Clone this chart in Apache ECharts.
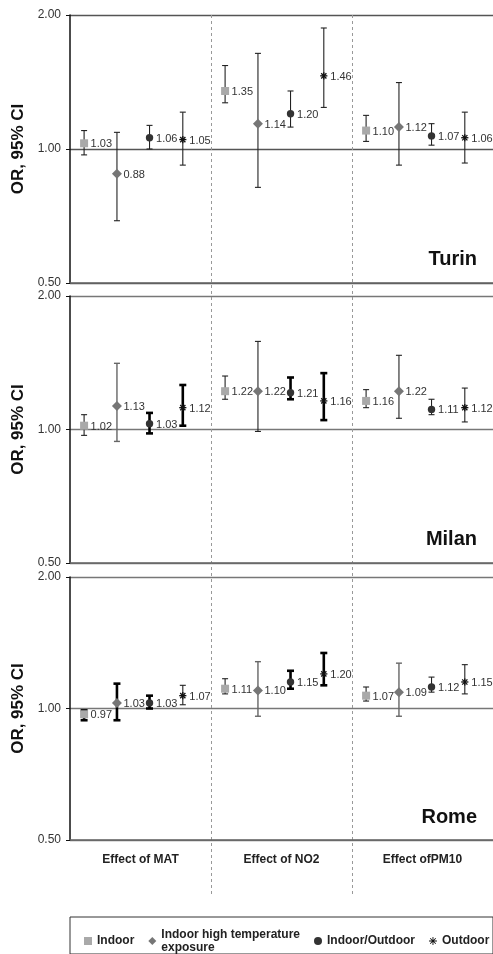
<!DOCTYPE html>
<html>
<head>
<meta charset="utf-8">
<title>OR, 95% CI</title>
<script src="https://cdn.jsdelivr.net/npm/echarts@6/dist/echarts.min.js"></script>
<style>html,body{margin:0;padding:0;background:#fff;}</style>
</head>
<body>
<div id="main" style="width:493px;height:954px"></div>
<script>
// categories
var effects = ['Effect of MAT', 'Effect of NO2', 'Effect ofPM10'];
var exposures = ['Indoor', 'Indoor high temperature exposure', 'Indoor/Outdoor', 'Outdoor'];
var cities = ['Turin', 'Milan', 'Rome'];

// odds ratios, rows = exposure, columns = effect
var turinOR   = [[1.03, 1.35, 1.10], [0.88, 1.14, 1.12], [1.06, 1.20, 1.07], [1.05, 1.46, 1.06]];
var turinLow  = [[0.97, 1.27, 1.04], [0.69, 0.82, 0.92], [1.00, 1.12, 1.02], [0.92, 1.24, 0.93]];
var turinHigh = [[1.10, 1.54, 1.19], [1.09, 1.64, 1.41], [1.13, 1.35, 1.14], [1.21, 1.87, 1.21]];

var milanOR   = [[1.02, 1.22, 1.16], [1.13, 1.22, 1.22], [1.03, 1.21, 1.11], [1.12, 1.16, 1.12]];
var milanLow  = [[0.97, 1.17, 1.12], [0.94, 0.99, 1.06], [0.98, 1.17, 1.08], [1.02, 1.05, 1.04]];
var milanHigh = [[1.08, 1.32, 1.23], [1.41, 1.58, 1.47], [1.09, 1.31, 1.17], [1.26, 1.34, 1.24]];

var romeOR    = [[0.97, 1.11, 1.07], [1.03, 1.10, 1.09], [1.03, 1.15, 1.12], [1.07, 1.20, 1.15]];
var romeLow   = [[0.94, 1.08, 1.04], [0.94, 0.96, 0.96], [1.00, 1.11, 1.09], [1.02, 1.13, 1.08]];
var romeHigh  = [[0.99, 1.17, 1.12], [1.14, 1.28, 1.27], [1.07, 1.22, 1.18], [1.13, 1.34, 1.26]];

var cityData = [
    [turinOR, turinLow, turinHigh],
    [milanOR, milanLow, milanHigh],
    [romeOR, romeLow, romeHigh]
];

// --- styling ---
var FONT = 'Liberation Sans';
var markerColors = ['#a9a9a9', '#767676', '#333333', '#111111'];
var offsets = [-0.40, -0.167, 0.064, 0.30];   // position inside the category band
// error bars drawn bold / grey (city -> "effect-exposure")
var boldBars = {
    Milan: ['0-2', '0-3', '1-2', '1-3'],
    Rome: ['0-0', '0-1', '0-2', '1-2', '1-3']
};
var greyBars = {
    Milan: ['0-1'],
    Rome: ['1-1', '2-1']
};
var panelTops = [15, 296, 577];
var panelHeights = [268, 267, 263];
var titleTops = [249, 529, 807];

var asteriskIcon = 'path://M4,0h1v9h-1z M0,4h9v1h-9z M1,1.7L1.7,1L8,7.3L7.3,8Z M7.3,1L8,1.7L1.7,8L1,7.3Z';

function barStyle(city, k, e) {
    var key = k + '-' + e;
    if ((boldBars[city] || []).indexOf(key) >= 0) return { width: 2.6, color: '#000', cap: 3.5 };
    if ((greyBars[city] || []).indexOf(key) >= 0) return { width: 1.4, color: '#666', cap: 3 };
    return { width: 1.1, color: '#222', cap: 3 };
}

function makeRender(city, e) {
    return function (params, api) {
        var k = api.value(0), v = api.value(1), lo = api.value(2), hi = api.value(3);
        var p = api.coord([k, v]);
        var band = api.coord([1, 1])[0] - api.coord([0, 1])[0];
        var x = p[0] + offsets[e] * band;
        var y = p[1];
        var yLo = api.coord([k, lo])[1];
        var yHi = api.coord([k, hi])[1];
        var bs = barStyle(city, k, e);
        var lineSt = { stroke: bs.color, lineWidth: bs.width };
        var children = [
            { type: 'line', shape: { x1: x, y1: yLo, x2: x, y2: yHi }, style: lineSt },
            { type: 'line', shape: { x1: x - bs.cap, y1: yLo, x2: x + bs.cap, y2: yLo }, style: lineSt },
            { type: 'line', shape: { x1: x - bs.cap, y1: yHi, x2: x + bs.cap, y2: yHi }, style: lineSt }
        ];
        var col = markerColors[e];
        if (e === 0) {
            children.push({ type: 'rect', shape: { x: x - 4, y: y - 4, width: 8, height: 8 }, style: { fill: col } });
        } else if (e === 1) {
            children.push({ type: 'polygon', shape: { points: [[x, y - 5], [x + 5, y], [x, y + 5], [x - 5, y]] }, style: { fill: col } });
        } else if (e === 2) {
            children.push({ type: 'circle', shape: { cx: x, cy: y, r: 3.7 }, style: { fill: col } });
        } else {
            var r = 3.6, d = 2.6;
            var st = { stroke: col, lineWidth: 1.3 };
            children.push({ type: 'line', shape: { x1: x - r, y1: y, x2: x + r, y2: y }, style: st });
            children.push({ type: 'line', shape: { x1: x, y1: y - r, x2: x, y2: y + r }, style: st });
            children.push({ type: 'line', shape: { x1: x - d, y1: y - d, x2: x + d, y2: y + d }, style: st });
            children.push({ type: 'line', shape: { x1: x - d, y1: y + d, x2: x + d, y2: y - d }, style: st });
        }
        children.push({
            type: 'text',
            style: {
                text: v.toFixed(2), x: x + 6.5, y: y + 1,
                fill: '#333', font: '11px ' + FONT, verticalAlign: 'middle', align: 'left'
            }
        });
        return { type: 'group', children: children };
    };
}

var grids = [], xAxes = [], yAxes = [], series = [], titles = [];

cities.forEach(function (city, c) {
    grids.push({ left: 70, right: 0, top: panelTops[c], height: panelHeights[c] });
    xAxes.push({
        type: 'category', gridIndex: c, data: effects, boundaryGap: true,
        axisLine: { lineStyle: { color: '#666', width: 1.5 } },
        axisTick: { show: false },
        axisLabel: {
            show: c === 2, margin: 14, interval: 0,
            color: '#222', fontSize: 12, fontWeight: 'bold', fontFamily: FONT
        },
        splitLine: { show: false }
    });
    yAxes.push({
        type: 'log', logBase: 2, min: 0.5, max: 2, gridIndex: c,
        name: 'OR, 95% CI', nameLocation: 'middle', nameGap: 43,
        nameTextStyle: { fontSize: 17, fontWeight: 'bold', color: '#111', fontFamily: FONT },
        axisLine: { show: true, lineStyle: { color: '#111', width: 1.5 } },
        axisTick: { show: true, length: 4, lineStyle: { color: '#111' } },
        axisLabel: {
            margin: 9, color: '#333', fontSize: 12, fontFamily: FONT,
            formatter: function (val) { return val.toFixed(2); }
        },
        splitLine: { show: true, lineStyle: { color: c === 0 ? '#555' : '#777', width: 1.3 } }
    });
    titles.push({
        text: city, right: 16, top: titleTops[c], padding: 0,
        textStyle: { fontSize: 20, fontWeight: 'bold', color: '#111', fontFamily: FONT }
    });
    var d = cityData[c];
    exposures.forEach(function (name, e) {
        series.push({
            type: 'custom', name: name,
            xAxisIndex: c, yAxisIndex: c,
            itemStyle: { color: markerColors[e] },
            encode: { x: 0, y: [1, 2, 3] },
            data: effects.map(function (_, k) { return [k, d[0][e][k], d[1][e][k], d[2][e][k]]; }),
            renderItem: makeRender(city, e)
        });
    });
});

// grid holding the dashed separators between effects
grids.push({ left: 70, right: 0, top: 15, height: 880 });
xAxes.push({
    type: 'value', gridIndex: 3, min: 0, max: effects.length, interval: 1,
    axisLine: { show: false }, axisTick: { show: false }, axisLabel: { show: false },
    splitLine: { show: true, showMinLine: false, showMaxLine: false, lineStyle: { color: '#999', type: [3, 3], width: 1 } }
});
yAxes.push({ type: 'value', gridIndex: 3, show: false });

// legend frame
grids.push({ left: 70, right: -20, top: 917, bottom: -20, show: true, borderColor: '#333', borderWidth: 1, backgroundColor: 'transparent' });
xAxes.push({ type: 'value', gridIndex: 4, show: false });
yAxes.push({ type: 'value', gridIndex: 4, show: false });

var myChart = echarts.init(document.getElementById('main'));
myChart.setOption({
    animation: false,
    backgroundColor: '#fff',
    title: titles,
    grid: grids,
    xAxis: xAxes,
    yAxis: yAxes,
    legend: {
        left: 79, top: 923, width: 440, itemGap: 14, itemWidth: 8, itemHeight: 8, selectedMode: false,
        data: [
            { name: exposures[0], icon: 'rect' },
            { name: exposures[1], icon: 'diamond' },
            { name: exposures[2], icon: 'circle' },
            { name: exposures[3], icon: asteriskIcon }
        ],
        formatter: function (name) {
            return name === exposures[1] ? 'Indoor high temperature\nexposure' : name;
        },
        textStyle: { fontSize: 12, fontWeight: 'bold', color: '#222', fontFamily: FONT, lineHeight: 13 }
    },
    series: series
});
</script>
</body>
</html>
